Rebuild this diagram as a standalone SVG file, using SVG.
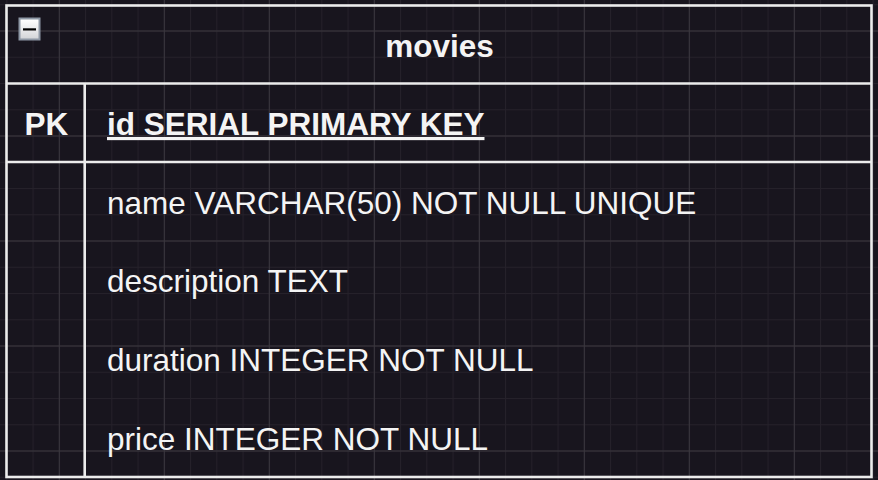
<svg xmlns="http://www.w3.org/2000/svg" width="878" height="480" viewBox="0 0 878 480">
  <defs>
    <pattern id="minor" patternUnits="userSpaceOnUse" x="6.3" y="4.25" width="26.25" height="26.25">
      <rect x="0" y="0" width="1" height="26.25" fill="#25212a"/>
      <rect x="0" y="0" width="26.25" height="1" fill="#25212a"/>
    </pattern>
    <pattern id="major" patternUnits="userSpaceOnUse" x="58.8" y="30.5" width="105" height="105">
      <rect x="0" y="0" width="1" height="105" fill="#3a373e"/>
      <rect x="0" y="0" width="105" height="1" fill="#3a373e"/>
    </pattern>
    <linearGradient id="btn" x1="0" y1="0" x2="0" y2="1">
      <stop offset="0" stop-color="#ffffff"/>
      <stop offset="1" stop-color="#d4d6d9"/>
    </linearGradient>
  </defs>
  <style>
    .line { stroke: #ececec; stroke-width: 2.6; fill: none; }
    .t { font-family: "Liberation Sans", Arial, sans-serif; font-size: 31.5px; fill: #f4f4f4; }
    .b { font-weight: bold; }
  </style>
  <rect x="0" y="0" width="878" height="480" fill="#18151e"/>
  <rect x="0" y="0" width="878" height="480" fill="url(#minor)"/>
  <rect x="0" y="0" width="878" height="480" fill="url(#major)"/>

  <g id="movies">
    <rect class="line" x="6.5" y="5.5" width="865" height="471.5"/>
    <g id="collapse-button">
      <rect x="18.5" y="17.5" width="22" height="23" fill="#8e98a5"/>
      <rect x="20.5" y="19.5" width="18" height="19" fill="url(#btn)"/>
      <rect x="23" y="28.3" width="13" height="2.2" fill="#000000"/>
    </g>
    <text class="t b" x="439.5" y="56.5" text-anchor="middle">movies</text>
    <line class="line" x1="6.5" y1="83.5" x2="871.5" y2="83.5"/>
    <line class="line" x1="6.5" y1="162" x2="871.5" y2="162"/>
    <line class="line" x1="84.7" y1="83.5" x2="84.7" y2="477"/>
    <g id="row-id">
      <text class="t b" x="46.5" y="135" text-anchor="middle">PK</text>
      <text class="t b" x="107" y="135" text-decoration="underline">id SERIAL PRIMARY KEY</text>
    </g>
    <g id="row-name">
      <text class="t" x="107" y="213.5">name VARCHAR(50) NOT NULL UNIQUE</text>
    </g>
    <g id="row-description">
      <text class="t" x="107" y="292.3">description TEXT</text>
    </g>
    <g id="row-duration">
      <text class="t" x="107" y="371">duration INTEGER NOT NULL</text>
    </g>
    <g id="row-price">
      <text class="t" x="107" y="449.8">price INTEGER NOT NULL</text>
    </g>
  </g>
  <g id="connectors"/>
</svg>
